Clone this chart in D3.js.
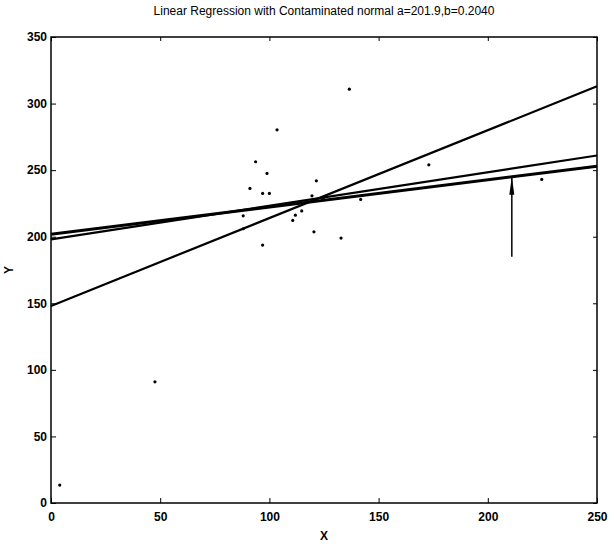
<!DOCTYPE html>
<html>
<head>
<meta charset="utf-8">
<script src="https://cdn.jsdelivr.net/npm/d3@7"></script>
<style>
  body { margin: 0; background: #fff; }
  text { font-family: "Liberation Sans", Arial, sans-serif; fill: #000; }
</style>
</head>
<body>
<div id="chart-area"></div>
<script>
// data
let pointX = [4, 47.6, 88, 88, 91.1, 93.7, 96.9, 96.9, 98.9, 100, 103.5, 110.7, 111.9, 114.8,
    119.5, 120.4, 121.5, 124.7, 132.8, 136.6, 141.8, 173, 224.7];
let pointY = [13.5, 91, 215.7, 206, 236.3, 256.3, 232.5, 193.7, 247.5, 232.5, 280.3, 212.2, 216.2, 219.4,
    230.7, 203.7, 242, 228.7, 199, 310.8, 228, 254, 243];

// regression lines: y = a + b*x
let lineA = [148, 198, 201.9];
let lineB = [0.66, 0.252, 0.2040];
let lineW = [2.2, 2.2, 3];

// annotation arrow
let arrowX = 211, arrowFrom = 185, arrowTo = 245;

let xTicks = [0, 50, 100, 150, 200, 250];
let yTicks = [0, 50, 100, 150, 200, 250, 300, 350];

let margin = {top: 37, right: 14, bottom: 43, left: 51};
let width = 611 - margin.left - margin.right,
    height = 546 - margin.top - margin.bottom;

let svg = d3.select("#chart-area").append("svg")
    .attr("width", 611)
    .attr("height", 546)
    .append("g")
    .attr("transform", "translate(" + margin.left + "," + margin.top + ")");

let x = d3.scaleLinear().domain([0, 250]).range([0, width]);
let y = d3.scaleLinear().domain([0, 350]).range([height, 0]);

// axes (ticks pointing inward, matlab style)
svg.append("g")
    .attr("transform", "translate(0," + height + ")")
    .call(d3.axisBottom(x).tickValues(xTicks).tickSizeInner(-5).tickSizeOuter(0).tickPadding(9))
    .call(g => g.select(".domain").remove())
    .selectAll("text").attr("font-size", 12).attr("font-weight", "bold");

svg.append("g")
    .call(d3.axisLeft(y).tickValues(yTicks).tickSizeInner(-5).tickSizeOuter(0).tickPadding(4))
    .call(g => g.select(".domain").remove())
    .selectAll("text").attr("font-size", 12).attr("font-weight", "bold");

svg.append("g")
    .call(d3.axisTop(x).tickValues(xTicks).tickSizeInner(-4).tickSizeOuter(0).tickFormat(""))
    .call(g => g.select(".domain").remove());

svg.append("g")
    .attr("transform", "translate(" + width + ",0)")
    .call(d3.axisRight(y).tickValues(yTicks).tickSizeInner(-4).tickSizeOuter(0).tickFormat(""))
    .call(g => g.select(".domain").remove());

svg.append("rect")
    .attr("width", width)
    .attr("height", height)
    .attr("fill", "none")
    .attr("stroke", "#000")
    .attr("stroke-width", 1.5);

// regression lines
let line = d3.line().x(d => x(d[0])).y(d => y(d[1]));
lineA.forEach(function (a, i) {
    svg.append("path")
        .datum([[0, a], [250, a + lineB[i] * 250]])
        .attr("fill", "none")
        .attr("stroke", "#000")
        .attr("stroke-width", lineW[i])
        .attr("d", line);
});

// arrow
svg.append("line")
    .attr("x1", x(arrowX)).attr("x2", x(arrowX))
    .attr("y1", y(arrowFrom)).attr("y2", y(arrowTo))
    .attr("stroke", "#000")
    .attr("stroke-width", 1.5);
svg.append("path")
    .attr("d", "M" + (x(arrowX) - 2.5) + "," + (y(arrowTo) + 18) +
        "L" + x(arrowX) + "," + y(arrowTo) +
        "L" + (x(arrowX) + 2.5) + "," + (y(arrowTo) + 18) + "Z")
    .attr("fill", "#000");

// points
svg.selectAll(".pt")
    .data(pointX)
    .enter().append("circle")
    .attr("class", "pt")
    .attr("cx", d => x(d))
    .attr("cy", (d, i) => y(pointY[i]))
    .attr("r", 1.6)
    .attr("fill", "#000");

// labels
svg.append("text")
    .attr("x", width / 2)
    .attr("y", -22)
    .attr("text-anchor", "middle")
    .attr("font-size", 12)
    .text("Linear Regression with Contaminated normal a=201.9,b=0.2040");

svg.append("text")
    .attr("x", width / 2)
    .attr("y", height + 37)
    .attr("text-anchor", "middle")
    .attr("font-size", 12)
    .attr("font-weight", "bold")
    .text("X");

svg.append("text")
    .attr("transform", "translate(-38," + (height / 2) + ") rotate(-90)")
    .attr("text-anchor", "middle")
    .attr("font-size", 12)
    .attr("font-weight", "bold")
    .text("Y");
</script>
</body>
</html>
